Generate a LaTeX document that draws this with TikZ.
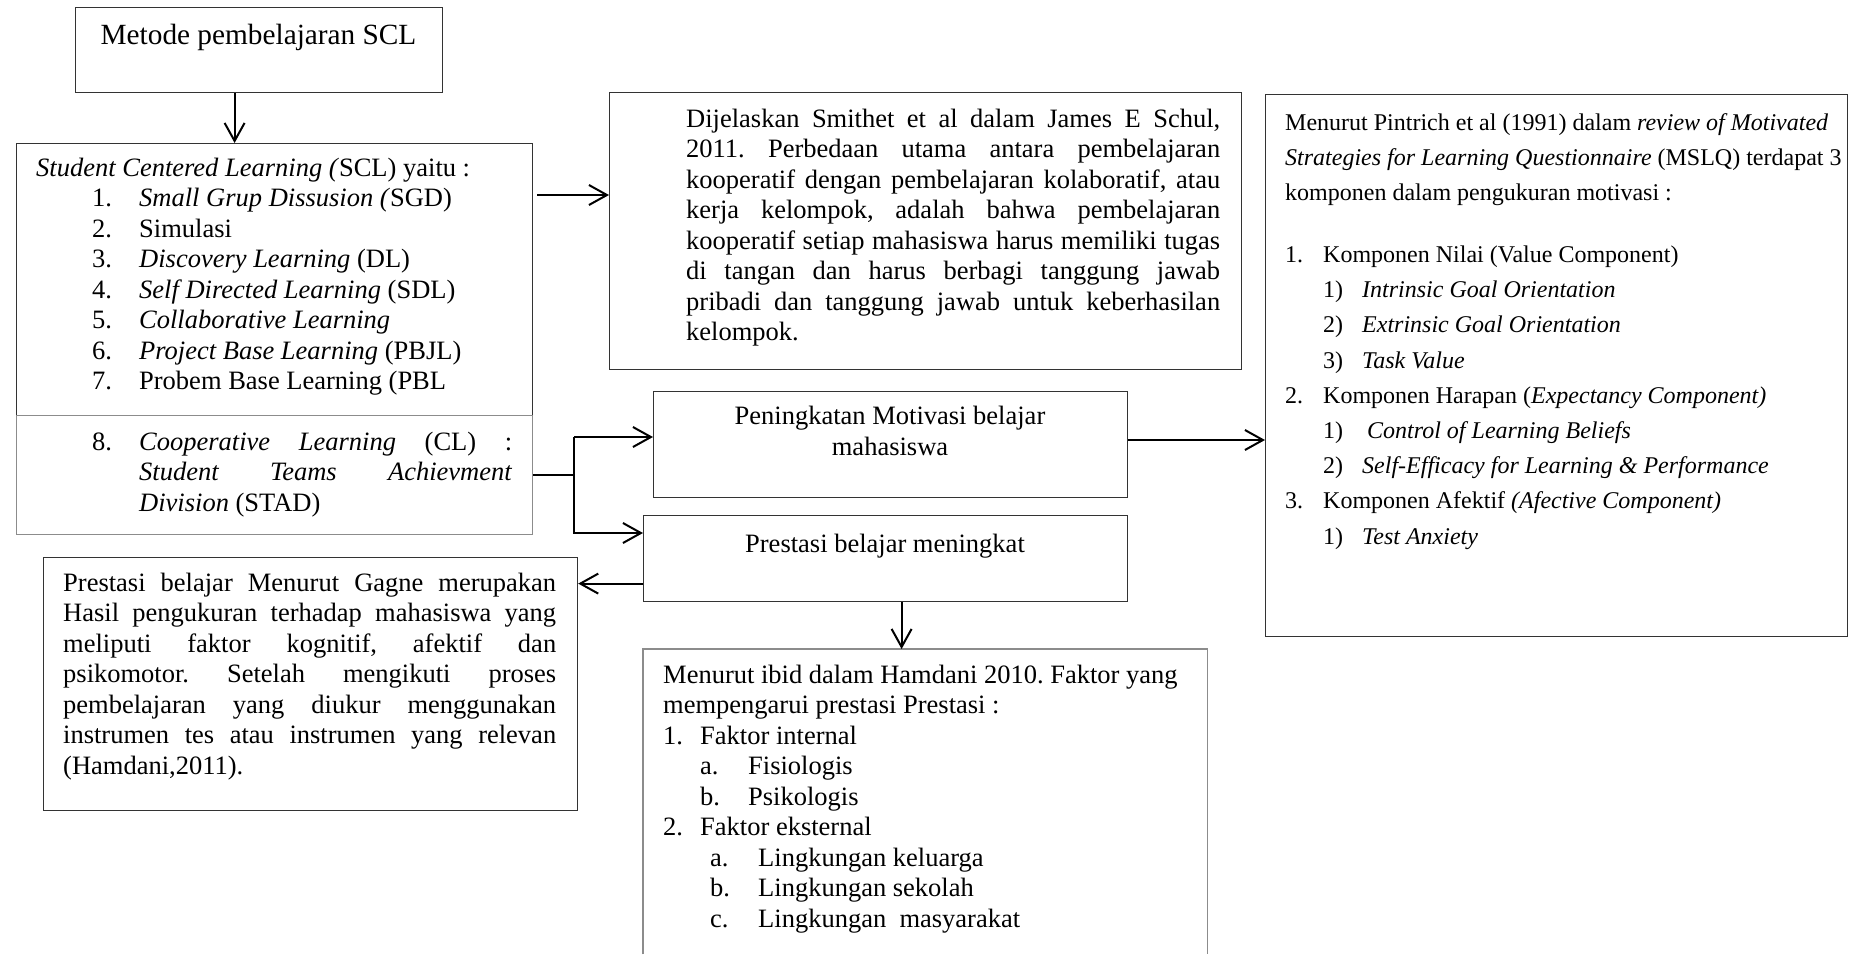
\documentclass[tikz,border=0pt]{standalone}
\usepackage{fontspec}
\setmainfont{Liberation Serif}
\usetikzlibrary{positioning, arrows.meta}
\frenchspacing

\newcommand{\jline}[2]{\makebox[#1][s]{#2}}
\newcommand{\numitem}[3]{\makebox[#1][l]{#2}#3}

\tikzset{
  box/.style={draw=black!80, line width=1.2pt, inner sep=0pt, anchor=north west},
  cellbox/.style={box, draw=black!45},
  txt/.style={inner sep=0pt, anchor=base west, align=left, font=\fontsize{26.5}{30.5}\selectfont},
  smalltxt/.style={txt, font=\fontsize{24}{35.2}\selectfont},
  arr/.style={-{Straight Barb[length=18pt,width=20pt]}, line width=2pt},
}

\begin{document}
\begin{tikzpicture}[x=1pt,y=-1pt]
  \useasboundingbox (0,0) rectangle (1858,954);

  % boxes
  \node[box, minimum width=367pt, minimum height=85pt] (metode) at (75,7) {};
  \node[box, minimum width=516pt, minimum height=272pt] (sclTop) at (16,143) {};
  \node[cellbox, minimum width=516pt, minimum height=119pt] (sclBot) at (16,415) {};
  \node[box, minimum width=632pt, minimum height=277pt] (dijelaskan) at (609,92) {};
  \node[box, minimum width=582pt, minimum height=542pt] (mslq) at (1265,94) {};
  \node[box, minimum width=474pt, minimum height=106pt] (peningkatan) at (653,391) {};
  \node[box, minimum width=484pt, minimum height=86pt] (prestasi) at (643,515) {};
  \node[box, minimum width=534pt, minimum height=253pt] (gagne) at (43,557) {};
  \node[inner sep=0pt, anchor=north west, minimum width=564pt, minimum height=305pt] (faktor) at (643,649) {};
  \draw[black!45, line width=1.2pt] (faktor.south west) -- (faktor.north west) -- (faktor.north east) -- (faktor.south east);

  % texts (base = baseline of the last line)
  \node[txt, anchor=base, font=\fontsize{29.3}{32}\selectfont] (metodeTxt) at (258.5,44) {Metode pembelajaran SCL};

  \node[txt] (sclTxt) at (36,389.5) {\textit{Student Centered Learning (}SCL) yaitu :\\
    \hspace*{56pt}\numitem{47pt}{1.}{\textit{Small Grup Dissusion (}SGD)}\\
    \hspace*{56pt}\numitem{47pt}{2.}{Simulasi}\\
    \hspace*{56pt}\numitem{47pt}{3.}{\textit{Discovery Learning} (DL)}\\
    \hspace*{56pt}\numitem{47pt}{4.}{\textit{Self Directed Learning} (SDL)}\\
    \hspace*{56pt}\numitem{47pt}{5.}{\textit{Collaborative Learning}}\\
    \hspace*{56pt}\numitem{47pt}{6.}{\textit{Project Base Learning} (PBJL)}\\
    \hspace*{56pt}\numitem{47pt}{7.}{Probem Base Learning (PBL}};

  \node[txt] (cooperTxt) at (92,511) {\numitem{47pt}{8.}{\jline{373pt}{\textit{Cooperative Learning} (CL) :}}\\
    \hspace*{47pt}\jline{373pt}{\textit{Student Teams Achievment}}\\
    \hspace*{47pt}\textit{Division} (STAD)};

  \node[txt] (dijelaskanTxt) at (686,340.5) {\jline{534pt}{Dijelaskan Smithet et al dalam James E Schul,}\\
    \jline{534pt}{2011. Perbedaan utama antara pembelajaran}\\
    \jline{534pt}{kooperatif dengan pembelajaran kolaboratif, atau}\\
    \jline{534pt}{kerja kelompok, adalah bahwa pembelajaran}\\
    \jline{534pt}{kooperatif setiap mahasiswa harus memiliki tugas}\\
    \jline{534pt}{di tangan dan harus berbagi tanggung jawab}\\
    \jline{534pt}{pribadi dan tanggung jawab untuk keberhasilan}\\
    kelompok.};

  \node[smalltxt] (mslqTxt) at (1285,544) {Menurut Pintrich et al (1991) dalam \textit{review of Motivated}\\
    \textit{Strategies for Learning Questionnaire} (MSLQ) terdapat 3\\
    komponen dalam pengukuran motivasi :\\[26.8pt]
    \numitem{38pt}{1.}{Komponen Nilai (Value Component)}\\
    \hspace*{38pt}\numitem{39pt}{1)}{\textit{Intrinsic Goal Orientation}}\\
    \hspace*{38pt}\numitem{39pt}{2)}{\textit{Extrinsic Goal Orientation}}\\
    \hspace*{38pt}\numitem{39pt}{3)}{\textit{Task Value}}\\
    \numitem{38pt}{2.}{Komponen Harapan (\textit{Expectancy Component)}}\\
    \hspace*{38pt}\numitem{44pt}{1)}{\textit{Control of Learning Beliefs}}\\
    \hspace*{38pt}\numitem{39pt}{2)}{\textit{Self-Efficacy for Learning \& Performance}}\\
    \numitem{38pt}{3.}{Komponen Afektif \textit{(Afective Component)}}\\
    \hspace*{38pt}\numitem{39pt}{1)}{\textit{Test Anxiety}}};

  \node[txt, anchor=base, align=center] (peningkatanTxt) at (890,455) {Peningkatan Motivasi belajar\\mahasiswa};
  \node[txt, anchor=base] (prestasiTxt) at (885,552) {Prestasi belajar meningkat};

  \node[txt] (gagneTxt) at (63,774) {\jline{493pt}{Prestasi belajar Menurut Gagne merupakan}\\
    \jline{493pt}{Hasil pengukuran terhadap mahasiswa yang}\\
    \jline{493pt}{meliputi faktor kognitif, afektif dan}\\
    \jline{493pt}{psikomotor. Setelah mengikuti proses}\\
    \jline{493pt}{pembelajaran yang diukur menggunakan}\\
    \jline{493pt}{instrumen tes atau instrumen yang relevan}\\
    (Hamdani,2011).};

  \node[txt] (faktorTxt) at (663,927) {Menurut ibid dalam Hamdani 2010. Faktor yang\\
    mempengarui prestasi Prestasi :\\
    \numitem{37pt}{1.}{Faktor internal}\\
    \hspace*{37pt}\numitem{48pt}{a.}{Fisiologis}\\
    \hspace*{37pt}\numitem{48pt}{b.}{Psikologis}\\
    \numitem{37pt}{2.}{Faktor eksternal}\\
    \hspace*{47pt}\numitem{48pt}{a.}{Lingkungan keluarga}\\
    \hspace*{47pt}\numitem{48pt}{b.}{Lingkungan sekolah}\\
    \hspace*{47pt}\numitem{48pt}{c.}{Lingkungan\ \ masyarakat}};

  % connectors
  \coordinate (dijY) at (0,195);
  \coordinate (mslqY) at (0,440);
  \coordinate (forkTop) at (574,437);
  \coordinate (forkBot) at (574,533);

  \draw[arr] ([xshift=-24.5pt]metode.south) -- ([xshift=-24.5pt]metode.south |- sclTop.north);
  \draw[arr, shorten <=4pt] (sclTop.east |- dijY) -- (dijelaskan.west |- dijY);
  \draw[line width=1.4pt] (sclBot.east) -- (sclBot.east -| forkTop);
  \draw[arr] (forkTop) -- (peningkatan.west |- forkTop);
  \draw[arr] (forkTop) |- (prestasi.west |- forkBot);
  \draw[arr] (peningkatan.east |- mslqY) -- (mslq.west |- mslqY);
  \draw[arr] ([yshift=-25pt]prestasi.west) -- ([yshift=-25pt]prestasi.west -| gagne.east);
  \draw[arr] ([xshift=16pt]prestasi.south) -- ([xshift=16pt]prestasi.south |- faktor.north);
\end{tikzpicture}
\end{document}
